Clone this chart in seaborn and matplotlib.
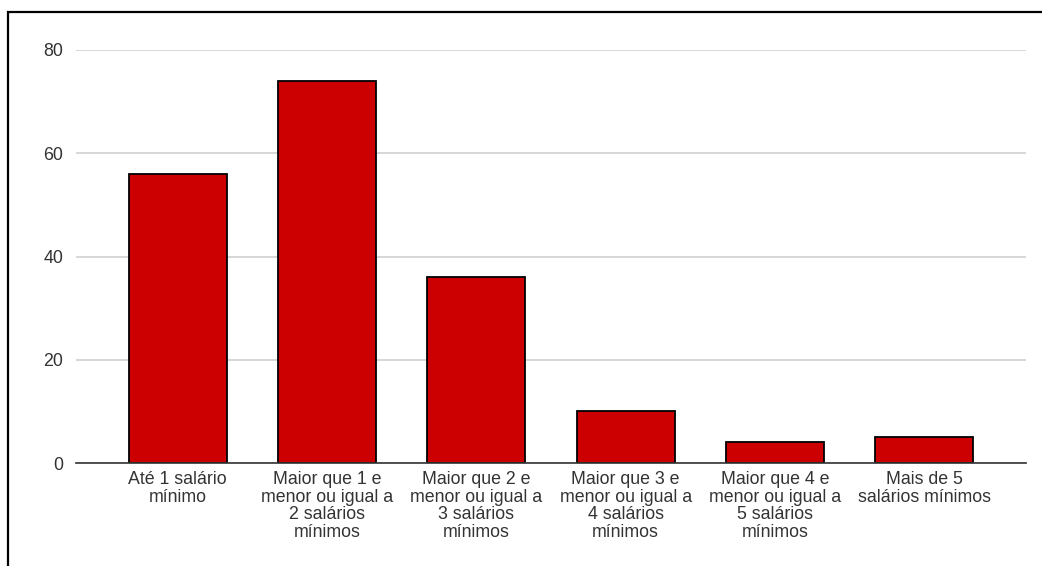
import matplotlib
matplotlib.use('Agg')
import matplotlib.pyplot as plt
import seaborn as sns
import pandas as pd
from matplotlib.patches import Rectangle

# ====== DATA

categorias = ['Até 1 salário\nmínimo',
              'Maior que 1 e\nmenor ou igual a\n2 salários\nmínimos',
              'Maior que 2 e\nmenor ou igual a\n3 salários\nmínimos',
              'Maior que 3 e\nmenor ou igual a\n4 salários\nmínimos',
              'Maior que 4 e\nmenor ou igual a\n5 salários\nmínimos',
              'Mais de 5\nsalários mínimos']
valores = [56, 74, 36, 10, 4, 5]
y_ticks = [0, 20, 40, 60, 80]

df = pd.DataFrame({'faixa': categorias, 'valor': valores})

# ====== PLOT

sns.set_style('white')
plt.rcParams['font.family'] = ['Liberation Sans', 'DejaVu Sans']

fig = plt.figure(figsize=(10.42, 5.66), dpi=100)
ax = fig.add_axes([76 / 1042, 1 - 463 / 566, 950 / 1042, 413 / 566])

sns.barplot(x='faixa', y='valor', data=df, color='#cc0000', saturation=1,
            width=0.655, edgecolor='black', linewidth=1.3, ax=ax, zorder=3)

ax.set_xlim(-0.682, 5.682)
ax.set_ylim(0, 80)
ax.set_yticks(y_ticks)
ax.yaxis.grid(True, color='#d4d4d4', linewidth=1.3, zorder=0)
ax.set_axisbelow(True)
for s in ['top', 'right', 'left']:
    ax.spines[s].set_visible(False)
ax.spines['bottom'].set_color('#333333')
ax.spines['bottom'].set_linewidth(1.2)
ax.spines['bottom'].set_zorder(4)
ax.tick_params(axis='y', length=0, pad=9, labelsize=12.8, labelcolor='#333333')
ax.tick_params(axis='x', length=0, pad=6, labelsize=12.8, labelcolor='#333333')
for lbl in ax.get_xticklabels():
    lbl.set_linespacing(1.03)
ax.set_xlabel('')
ax.set_ylabel('')

# moldura (borda do recorte)
fig.patches.append(Rectangle((8 / 1042, -0.1), 1.2, 1 - 12 / 566 + 0.1,
                             transform=fig.transFigure, fill=False,
                             edgecolor='black', linewidth=1.6))

plt.savefig('out.png', dpi=100)
plt.close()
